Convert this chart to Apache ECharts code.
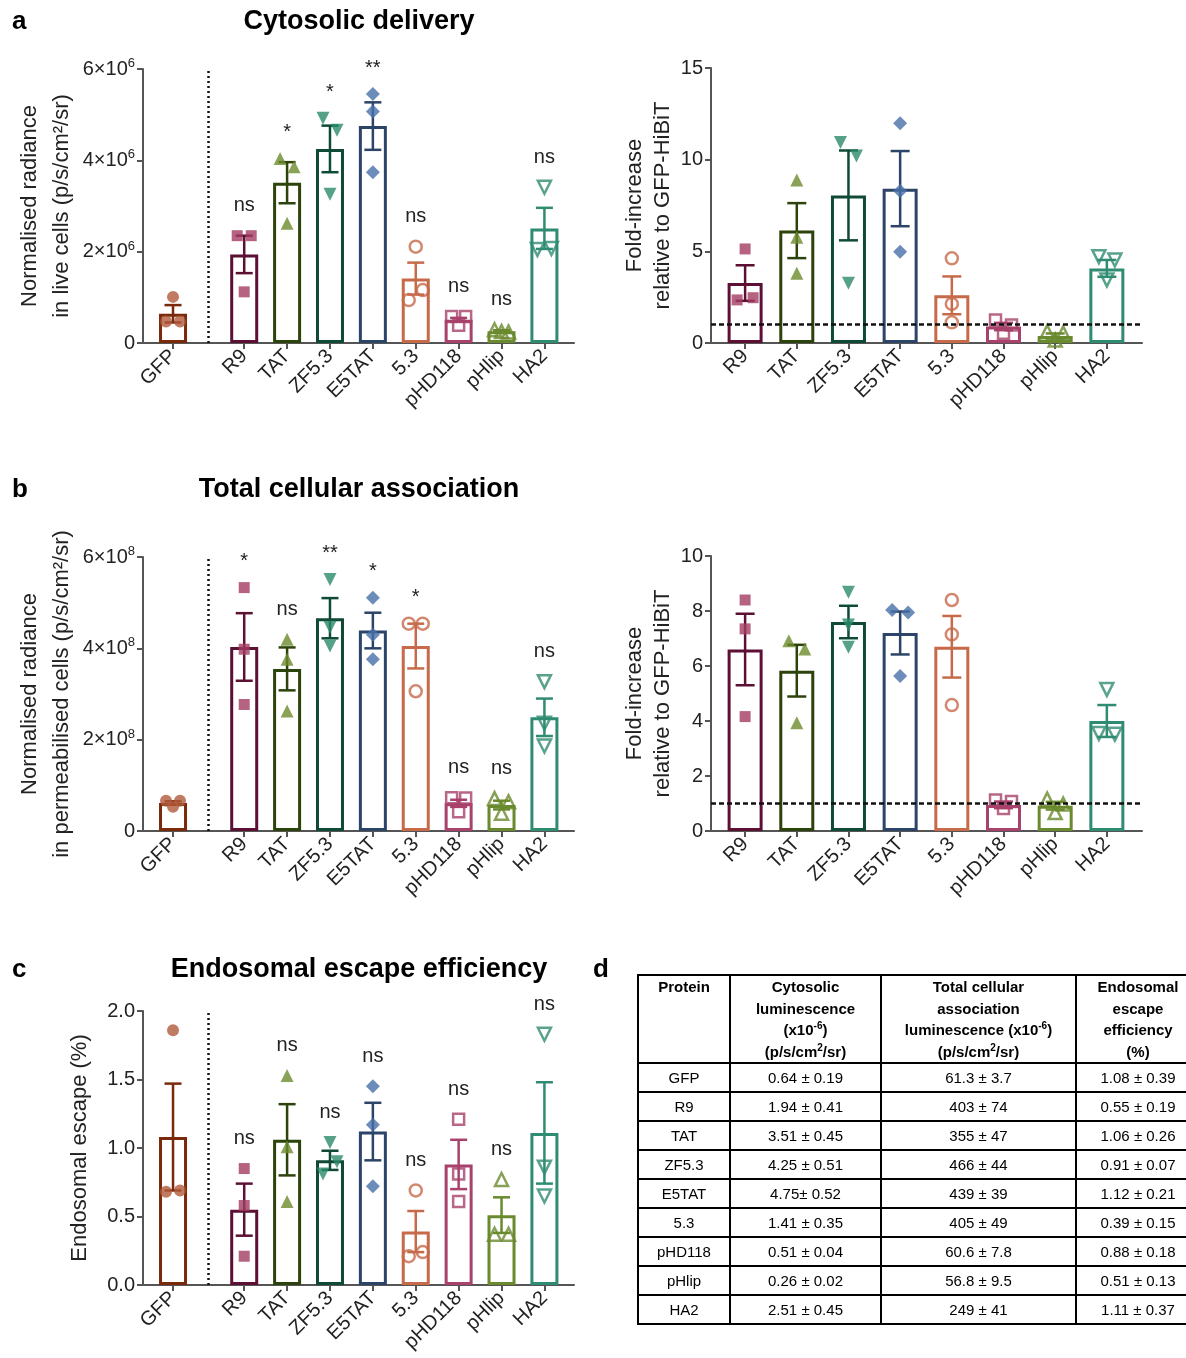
<!DOCTYPE html>
<html>
<head>
<meta charset="utf-8">
<script src="https://cdn.jsdelivr.net/npm/echarts@6/dist/echarts.min.js"></script>
<style>
html, body { margin: 0; padding: 0; background: #fff; overflow: hidden; }
body { width: 1186px; height: 1358px; position: relative; }
#chart { position: absolute; left: 0; top: 0; width: 1186px; height: 1358px; }
#tbl { position: absolute; left: 637px; top: 974px; width: 562px; border-collapse: collapse; table-layout: fixed;
  font-family: 'Liberation Sans', Arial, sans-serif; font-size: 15px; color: #000; }
#tbl td, #tbl th { border: 2px solid #000; text-align: center; padding: 0; white-space: nowrap; }
#tbl th { font-weight: bold; vertical-align: top; line-height: 21.5px; padding-top: 0; }
#tbl tr.h { height: 88px; }
#tbl tr.r { height: 29px; }
#tbl sup { font-size: 10px; line-height: 0; }
</style>
</head>
<body>
<div id="chart"></div>
<table id="tbl"></table>
<script>
var FONT = "'Liberation Sans', Arial, sans-serif";
var AXIS = '#555';

var names = ['GFP', 'R9', 'TAT', 'ZF5.3', 'E5TAT', '5.3', 'pHD118', 'pHlip', 'HA2'];
var barColors = ['#7a2a0b', '#5c1034', '#2c440b', '#0e4a37', '#2b4468', '#c76a4a', '#a8416b', '#6a8a2e', '#2f8b72'];
var ptColors  = ['#b05a3b', '#a23c62', '#6b8b2c', '#2b8b6c', '#4770a9', '#c76a4a', '#a8416b', '#6a8a2e', '#2f8b72'];
var symbols   = ['circle', 'rect', 'triangle', 'triangle-down', 'diamond', 'circle', 'rect', 'triangle', 'triangle-down'];
var filled    = [true, true, true, true, true, false, false, false, false];

// a: cytosolic delivery, x10^6 p/s/cm2/sr
var cytoMean = [0.64, 1.94, 3.51, 4.25, 4.75, 1.41, 0.51, 0.26, 2.51];
var cytoSem  = [0.19, 0.41, 0.45, 0.51, 0.52, 0.35, 0.04, 0.02, 0.45];
var cytoPts  = [[0.47, 1.01, 0.47], [2.35, 2.35, 1.12], [4.04, 3.86, 2.62], [4.92, 4.66, 3.26], [5.45, 5.07, 3.74],
                [2.11, 0.94, 1.16], [0.58, 0.39, 0.58], [0.29, 0.25, 0.24], [3.41, 2.05, 2.07]];
var cytoSig  = ['', 'ns', '*', '*', '**', 'ns', 'ns', 'ns', 'ns'];

// a right: fold increase over GFP-HiBiT
var cytoFoldMean = [3.27, 6.13, 8.05, 8.42, 2.6, 0.9, 0.38, 4.07];
var cytoFoldSem  = [0.97, 1.5, 2.45, 2.05, 1.03, 0.2, 0.14, 0.46];
var cytoFoldPts  = [[5.13, 2.35, 2.47], [8.89, 5.77, 3.80], [10.93, 10.2, 3.26], [11.98, 8.29, 4.98],
                    [4.62, 2.13, 1.13], [1.25, 0.53, 0.98], [0.62, 0.16, 0.55], [4.71, 4.53, 3.44]];

// b: total cellular association, x10^8 p/s/cm2/sr
var totMean = [0.613, 4.03, 3.55, 4.66, 4.39, 4.05, 0.606, 0.568, 2.49];
var totSem  = [0.037, 0.74, 0.47, 0.44, 0.39, 0.49, 0.078, 0.095, 0.41];
var totPts  = [[0.66, 0.53, 0.66], [5.33, 3.98, 2.77], [4.20, 3.76, 2.63], [5.51, 4.46, 4.05], [5.11, 4.30, 3.76],
               [4.54, 4.54, 3.06], [0.73, 0.42, 0.72], [0.71, 0.39, 0.64], [3.27, 2.36, 1.86]];
var totSig  = ['', '*', 'ns', '**', '*', '*', 'ns', 'ns', 'ns'];

// b right
var totFoldMean = [6.6, 5.83, 7.6, 7.2, 6.7, 0.95, 0.92, 4.0];
var totFoldSem  = [1.3, 0.94, 0.59, 0.78, 1.12, 0.12, 0.14, 0.58];
var totFoldPts  = [[8.4, 7.35, 4.16], [6.92, 6.62, 3.94], [8.68, 7.49, 6.68], [8.04, 7.95, 5.64],
                   [8.4, 7.15, 4.58], [1.13, 0.82, 1.07], [1.16, 0.67, 0.98], [5.15, 3.55, 3.52]];

// c: endosomal escape (%)
var escMean = [1.08, 0.55, 1.06, 0.91, 1.12, 0.39, 0.88, 0.51, 1.11];
var escSem  = [0.39, 0.19, 0.26, 0.07, 0.21, 0.15, 0.18, 0.13, 0.37];
var escPts  = [[1.86, 0.68, 0.69], [0.85, 0.58, 0.21], [1.53, 1.01, 0.61], [1.04, 0.81, 0.90], [1.45, 1.17, 0.72],
               [0.69, 0.21, 0.24], [1.21, 0.81, 0.61], [0.77, 0.37, 0.37], [1.83, 0.86, 0.65]];
var escSig  = ['', 'ns', 'ns', 'ns', 'ns', 'ns', 'ns', 'ns', 'ns'];

// d: table
var tblCyto  = ['0.64 ± 0.19', '1.94 ± 0.41', '3.51 ± 0.45', '4.25 ± 0.51', '4.75± 0.52', '1.41 ± 0.35', '0.51 ± 0.04', '0.26 ± 0.02', '2.51 ± 0.45'];
var tblTotal = ['61.3 ± 3.7', '403 ± 74', '355 ± 47', '466 ± 44', '439 ± 39', '405 ± 49', '60.6 ± 7.8', '56.8 ± 9.5', '249 ± 41'];
var tblEsc   = ['1.08 ± 0.39', '0.55 ± 0.19', '1.06 ± 0.26', '0.91 ± 0.07', '1.12 ± 0.21', '0.39 ± 0.15', '0.88 ± 0.18', '0.51 ± 0.13', '1.11 ± 0.37'];

var grids = [], xAxes = [], yAxes = [], series = [];

// spread overlapping replicate points sideways, like the original plot
function jitter(vals, thr) {
    var idx = vals.map(function (v, i) { return i; }).sort(function (a, b) { return vals[b] - vals[a]; });
    var groups = [[idx[0]]];
    for (var k = 1; k < idx.length; k++) {
        if (vals[idx[k - 1]] - vals[idx[k]] < thr) groups[groups.length - 1].push(idx[k]);
        else groups.push([idx[k]]);
    }
    var off = vals.map(function () { return 0; });
    groups.forEach(function (g) {
        g.sort(function (a, b) { return a - b; });
        if (g.length > 1) g.forEach(function (m, j) { off[m] = (j - (g.length - 1) / 2) * (g.length === 2 ? 2 : 1); });
    });
    return off;
}

function addPanel(p) {
    var g = grids.length;
    grids.push({ left: p.left, top: p.top, width: p.width, height: p.height });
    var ci = p.names.length === 9 ? 0 : 1;
    var xs = p.names.map(function (n, i) { return p.gap ? (i === 0 ? 0 : i + p.gap) : i; });
    var bc = barColors.slice(ci), pc = ptColors.slice(ci), sy = symbols.slice(ci), fi = filled.slice(ci);

    xAxes.push({
        type: 'value', gridIndex: g, min: p.xMin, max: p.xMax,
        axisLine: { onZero: false, lineStyle: { color: AXIS, width: 2 } },
        axisTick: { customValues: xs, length: 6, lineStyle: { color: AXIS, width: 2 } },
        axisLabel: {
            customValues: xs, rotate: 45, fontSize: 20, color: '#222', fontFamily: FONT, margin: 10,
            formatter: function (v) {
                for (var i = 0; i < xs.length; i++) if (Math.abs(xs[i] - v) < 1e-6) return p.names[i];
                return '';
            }
        },
        splitLine: { show: false }
    });
    yAxes.push({
        type: 'value', gridIndex: g, min: 0, max: p.yMax, interval: p.yInt,
        axisLine: { show: true, onZero: false, lineStyle: { color: AXIS, width: 2 } },
        axisTick: { show: true, length: 6, lineStyle: { color: AXIS, width: 2 } },
        axisLabel: {
            fontSize: 20, color: '#222', fontFamily: FONT, margin: 8, formatter: p.yFmt,
            rich: {
                b: { fontSize: 20, color: '#222', fontFamily: FONT, lineHeight: 24 },
                s: { fontSize: 13, color: '#222', fontFamily: FONT, lineHeight: 13, verticalAlign: 'top' }
            }
        },
        splitLine: { show: false },
        name: p.yName, nameLocation: 'middle', nameGap: p.nameGap,
        nameTextStyle: { fontSize: 22, color: '#222', fontFamily: FONT, lineHeight: p.nameLH || 32 }
    });

    var bar = {
        type: 'bar', xAxisIndex: g, yAxisIndex: g, barWidth: p.barW, z: 2, animation: false,
        data: xs.map(function (x, i) {
            return { value: [x, p.mean[i]], itemStyle: { color: 'rgba(0,0,0,0)', borderColor: bc[i], borderWidth: 3 } };
        })
    };
    if (p.sep != null) {
        bar.markLine = { symbol: 'none', silent: true, label: { show: false }, animation: false,
            lineStyle: { color: '#111', width: 2.5, type: [2, 3] }, data: [{ xAxis: p.sep }] };
    }
    if (p.ref != null) {
        bar.markLine = { symbol: 'none', silent: true, label: { show: false }, animation: false,
            lineStyle: { color: '#111', width: 2.5, type: [5, 3] }, data: [{ yAxis: p.ref }] };
    }
    series.push(bar);

    series.push({
        type: 'custom', xAxisIndex: g, yAxisIndex: g, z: 3, animation: false,
        data: xs.map(function (x, i) { return [x, p.mean[i], p.sem[i]]; }),
        encode: { x: 0, y: 1 },
        renderItem: function (params, api) {
            var x = api.value(0), m = api.value(1), s = api.value(2);
            var t = api.coord([x, m + s]), b = api.coord([x, m - s]);
            var hw = p.cap / 2;
            var st = { stroke: bc[params.dataIndex], lineWidth: 2.5 };
            return { type: 'group', children: [
                { type: 'line', shape: { x1: t[0], y1: t[1], x2: b[0], y2: b[1] }, style: st },
                { type: 'line', shape: { x1: t[0] - hw, y1: t[1], x2: t[0] + hw, y2: t[1] }, style: st },
                { type: 'line', shape: { x1: b[0] - hw, y1: b[1], x2: b[0] + hw, y2: b[1] }, style: st }
            ] };
        }
    });

    var thr = 15 * p.yMax / p.height;
    var pts = [];
    p.pts.forEach(function (vals, i) {
        var off = jitter(vals, thr);
        vals.forEach(function (v, j) {
            var down = sy[i] === 'triangle-down';
            var sym = down ? 'triangle' : sy[i];
            var size = sym === 'rect' ? 11 : sym === 'circle' ? 12 : sym === 'diamond' ? 14 : 13;
            pts.push({
                value: [xs[i], v], symbol: sym, symbolSize: size, symbolRotate: down ? 180 : 0,
                symbolOffset: [off[j] * p.jit, 0],
                itemStyle: fi[i] ? { color: pc[i] } : { color: 'rgba(255,255,255,0)', borderColor: pc[i], borderWidth: 2.5 }
            });
        });
    });
    series.push({ type: 'scatter', xAxisIndex: g, yAxisIndex: g, z: 4, animation: false, data: pts });

    if (p.sig) {
        series.push({
            type: 'custom', xAxisIndex: g, yAxisIndex: g, z: 5, animation: false,
            data: xs.map(function (x, i) {
                return [x, Math.max(Math.max.apply(null, p.pts[i]), p.mean[i] + p.sem[i])];
            }),
            encode: { x: 0, y: 1 },
            renderItem: function (params, api) {
                var txt = p.sig[params.dataIndex];
                if (!txt) return null;
                var c = api.coord([api.value(0), api.value(1)]);
                var gap = txt.indexOf('*') >= 0 ? 16 : 20;
                return { type: 'text', x: c[0], y: c[1] - gap,
                    style: { text: txt, font: '20px ' + FONT, fill: '#222', align: 'center', verticalAlign: 'bottom',
                             textAlign: 'center', textVerticalAlign: 'bottom' } };
            }
        });
    }
}

function sci(e) {
    return function (v) { return v === 0 ? '0' : '{b|' + v + '×10}{s|' + e + '}'; };
}
function plain(v) { return String(v); }

var leftBox = { left: 143, width: 431, xMin: -0.70, xMax: 9.35, gap: 0.66, barW: 28, cap: 17, jit: 7, sep: 0.82 };
var rightBox = { left: 711, width: 431, xMin: -0.66, xMax: 7.68, barW: 35, cap: 19, jit: 8, ref: 1 };
function merge(a, b) { var o = {}; for (var k in a) o[k] = a[k]; for (var k2 in b) o[k2] = b[k2]; return o; }

addPanel(merge(leftBox, { top: 69, height: 274, names: names, mean: cytoMean, sem: cytoSem, pts: cytoPts, sig: cytoSig,
    yMax: 6, yInt: 2, yFmt: sci(6), nameGap: 65,
    yName: 'Normalised radiance\nin live cells (p/s/cm²/sr)' }));
addPanel(merge(rightBox, { top: 68, height: 275, names: names.slice(1), mean: cytoFoldMean, sem: cytoFoldSem, pts: cytoFoldPts,
    yMax: 15, yInt: 5, yFmt: plain, nameGap: 32, nameLH: 28,
    yName: 'Fold-increase\nrelative to GFP-HiBiT' }));
addPanel(merge(leftBox, { top: 557, height: 274, names: names, mean: totMean, sem: totSem, pts: totPts, sig: totSig,
    yMax: 6, yInt: 2, yFmt: sci(8), nameGap: 65,
    yName: 'Normalised radiance\nin permeabilised cells (p/s/cm²/sr)' }));
addPanel(merge(rightBox, { top: 556, height: 275, names: names.slice(1), mean: totFoldMean, sem: totFoldSem, pts: totFoldPts,
    yMax: 10, yInt: 2, yFmt: plain, nameGap: 32, nameLH: 28,
    yName: 'Fold-increase\nrelative to GFP-HiBiT' }));
addPanel(merge(leftBox, { top: 1011, height: 274, names: names, mean: escMean, sem: escSem, pts: escPts, sig: escSig,
    yMax: 2, yInt: 0.5, yFmt: function (v) { return v.toFixed(1); }, nameGap: 47,
    yName: 'Endosomal escape (%)' }));

function label(txt, x, y, size, align) {
    return { type: 'text', x: x, y: y, silent: true,
        style: { text: txt, font: 'bold ' + size + 'px ' + FONT, fill: '#000',
                 textAlign: align, textVerticalAlign: 'middle', align: align, verticalAlign: 'middle' } };
}

var chart = echarts.init(document.getElementById('chart'), null, { renderer: 'canvas' });
chart.setOption({
    animation: false,
    grid: grids,
    xAxis: xAxes,
    yAxis: yAxes,
    series: series,
    graphic: [
        label('a', 12, 22, 26, 'left'),
        label('b', 12, 490, 26, 'left'),
        label('c', 12, 970, 26, 'left'),
        label('d', 593, 970, 26, 'left'),
        label('Cytosolic delivery', 359, 22, 27, 'center'),
        label('Total cellular association', 359, 490, 27, 'center'),
        label('Endosomal escape efficiency', 359, 970, 27, 'center')
    ]
});

// panel d table
var head = ['Protein',
    'Cytosolic<br>luminescence<br>(x10<sup>-6</sup>)<br>(p/s/cm<sup>2</sup>/sr)',
    'Total cellular<br>association<br>luminescence (x10<sup>-6</sup>)<br>(p/s/cm<sup>2</sup>/sr)',
    'Endosomal<br>escape<br>efficiency<br>(%)'];
var html = '<colgroup><col style="width:92px"><col style="width:151px"><col style="width:195px"><col style="width:124px"></colgroup>';
html += '<tr class="h">' + head.map(function (h) { return '<th>' + h + '</th>'; }).join('') + '</tr>';
names.forEach(function (n, i) {
    html += '<tr class="r"><td>' + n + '</td><td>' + tblCyto[i] + '</td><td>' + tblTotal[i] + '</td><td>' + tblEsc[i] + '</td></tr>';
});
document.getElementById('tbl').innerHTML = html;
</script>
</body>
</html>
